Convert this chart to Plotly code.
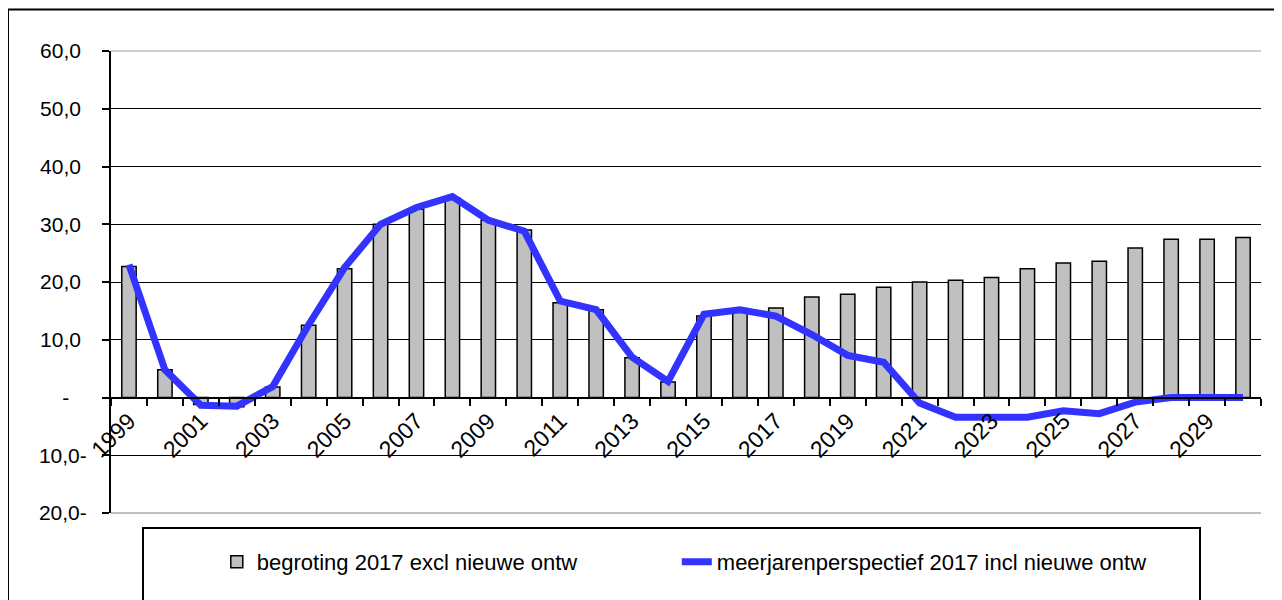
import plotly.graph_objects as go

years = list(range(1999, 2031))
begroting = [22.7, 4.8, -1.2, -1.6, 1.8, 12.5, 22.3, 30.0, 32.6, 34.6, 30.7, 29.0,
             16.4, 15.2, 6.9, 2.7, 14.1, 14.8, 15.5, 17.4, 17.9, 19.1, 20.0, 20.3,
             20.8, 22.3, 23.3, 23.6, 25.9, 27.4, 27.4, 27.7]
meerjaren = [23.0, 4.8, -1.35, -1.5, 1.9, 12.6, 22.5, 30.0, 32.9, 34.8, 30.7, 28.8,
             16.7, 15.2, 7.0, 2.8, 14.4, 15.2, 14.1, 10.9, 7.3, 6.1, -0.95, -3.4,
             -3.4, -3.4, -2.3, -2.8, -0.8, 0.0, 0.0, 0.0]
y_ticks = [60, 50, 40, 30, 20, 10, 0, -10, -20]
y_labels = ["60,0\u00a0", "50,0\u00a0", "40,0\u00a0", "30,0\u00a0", "20,0\u00a0", "10,0\u00a0",
            "-\u00a0\u00a0\u00a0", "10,0-", "20,0-"]
x_label_years = list(range(1999, 2030, 2))
name_bar = "begroting 2017 excl nieuwe ontw"
name_line = "meerjarenperspectief 2017 incl nieuwe ontw"

FONT = "Liberation Sans, Arial, sans-serif"

# plot area in figure pixels
L, T, W, H = 103, 43, 1150, 462


def px(x):
    return (x - L) / W


def py(y):
    return (T + H - y) / H


fig = go.Figure()
fig.add_trace(go.Bar(
    x=years, y=begroting, name=name_bar, width=0.4, legend="legend",
    marker=dict(color="#C0C0C0", line=dict(color="black", width=1.5)),
))
fig.add_trace(go.Scatter(
    x=years, y=meerjaren, name=name_line, mode="lines", legend="legend2",
    line=dict(color="#3333FF", width=7),
))

legend_common = dict(orientation="h", xanchor="left", y=-0.106, yanchor="middle",
                     font=dict(size=22), bgcolor="rgba(0,0,0,0)", borderwidth=0)

fig.update_layout(
    width=1282, height=600,
    margin=dict(l=L, r=1282 - L - W, t=T, b=600 - T - H),
    paper_bgcolor="white", plot_bgcolor="white",
    font=dict(family=FONT, size=21, color="black"),
    showlegend=True,
    legend=dict(x=0.092, **legend_common),
    legend2=dict(x=0.492, **legend_common),
    xaxis=dict(
        range=[1998.5, 2030.5], anchor="free", position=0.25,
        tickvals=x_label_years, ticktext=[str(y) for y in x_label_years],
        tickangle=-45, ticks="", showgrid=False, zeroline=False,
        showline=True, linecolor="black", linewidth=2,
        tickfont=dict(size=23), ticklabelstandoff=0,
        minor=dict(tickvals=[y - 0.5 for y in years] + [years[-1] + 0.5],
                   ticks="outside", ticklen=7, tickwidth=1.5, tickcolor="black",
                   showgrid=False),
    ),
    yaxis=dict(
        range=[-20, 60], domain=[0, 1], tickvals=y_ticks, ticktext=y_labels,
        showgrid=True, gridcolor="black", gridwidth=1.2, zeroline=False,
        showline=True, linecolor="black", linewidth=2,
        ticks="outside", ticklen=7, tickwidth=1.5, tickcolor="black",
        ticklabelstandoff=11, tickfont=dict(size=21),
    ),
    shapes=[
        dict(type="line", xref="paper", yref="paper", x0=0, x1=1, y0=1, y1=1,
             line=dict(color="#C0C0C0", width=1.5), layer="above"),
        dict(type="line", xref="paper", yref="paper", x0=0, x1=1, y0=0, y1=0,
             line=dict(color="#C0C0C0", width=2), layer="above"),
        dict(type="rect", xref="paper", yref="paper",
             x0=px(135), x1=px(1192), y0=py(520), y1=py(610),
             line=dict(color="black", width=2)),
        dict(type="rect", xref="paper", yref="paper",
             x0=px(0), x1=px(1300), y0=py(1.5), y1=py(620),
             line=dict(color="black", width=2)),
    ],
)

fig.write_html("out.html")
